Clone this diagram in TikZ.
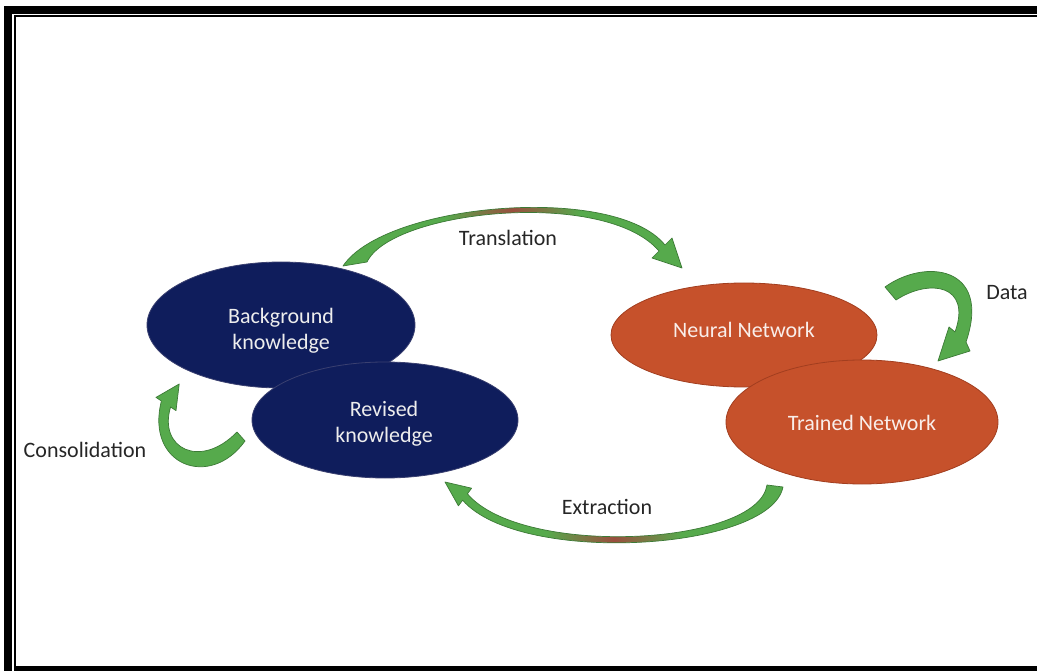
\documentclass[tikz,border=0pt]{standalone}
\usepackage{fontspec}
\setmainfont{Carlito}
\usetikzlibrary{shapes.geometric}
\definecolor{navy}{HTML}{0F1D5C}
\definecolor{navyedge}{HTML}{3A4070}
\definecolor{rust}{HTML}{C6512B}
\definecolor{rustedge}{HTML}{A23E1F}
\definecolor{leaf}{HTML}{56AA4C}
\definecolor{leafedge}{HTML}{3C7A36}
\definecolor{bark}{HTML}{9A4E3E}
\definecolor{ink}{HTML}{262626}
% green band that turns brownish where the arc is thinnest
\pgfdeclarehorizontalshading{arcshade}{100bp}{color(0bp)=(leaf); color(25bp)=(leaf); color(40bp)=(leaf); color(50bp)=(bark); color(60bp)=(leaf); color(75bp)=(leaf); color(100bp)=(leaf)}
\begin{document}
\begin{tikzpicture}[x=1pt, y=-1pt,
  font=\fontsize{22}{26}\selectfont,
  blob/.style={ellipse, inner sep=0pt, line width=0.8pt},
  bluenode/.style={blob, fill=navy, draw=navyedge},
  rustnode/.style={blob, fill=rust, draw=rustedge},
  intext/.style={align=center, text=white!93!black, inner sep=0pt},
  caption/.style={text=ink, inner sep=0pt},
  band/.style={fill=leaf, draw=leafedge, line width=0.7pt, line join=round},
  arcband/.style={draw=leafedge, line width=0.7pt, line join=round, shading=arcshade}]
\useasboundingbox (0,0) rectangle (1037,671);
\clip (0,0) rectangle (1037,671);
\fill[white] (0,0) rectangle (1037,671);

% double frame, open on the right
\draw[line width=8pt, line join=miter] (8,671) -- (8,10) -- (1037,10);
\draw[line width=2pt, line join=miter] (15,671) -- (15,16) -- (1037,16);
\fill (14,665.5) rectangle (1037,671);

% knowledge side
\node[bluenode, minimum width=268pt, minimum height=126pt] (bg) at (281,325) {};
\node[bluenode, minimum width=266pt, minimum height=116pt] (rev) at (385,420) {};
\node[intext] (bgtext) at (281,331) {Background\\knowledge};
\node[intext] (revtext) at (384,424) {Revised\\knowledge};

% network side
\node[rustnode, minimum width=266pt, minimum height=104pt] (nn) at (744,335) {};
\node[rustnode, minimum width=272pt, minimum height=124pt] (tn) at (862,422) {};
\node[intext, text=white!90!rust] (nntext) at (744,330) {Neural Network};
\node[intext, text=white!90!rust] (tntext) at (862,423) {Trained Network};

% labels
\node[caption] (translation) at (508,238) {Translation};
\node[caption] (data) at (1007,293) {Data};
\node[caption] (consolidation) at (85,450) {Consolidation};
\node[caption] (extraction) at (607,507) {Extraction};

% Translation arc
\path[arcband] (343,266) .. controls (385,203) and (615,183) .. (665,245)
  -- (672,238) -- (682,268) -- (652,258) -- (659,251)
  .. controls (605,188) and (392,210) .. (367,262) -- cycle;

% Extraction arc
\path[arcband] (783,487) .. controls (770,551) and (520,566) .. (462.6,500.2)
  -- (458.4,505.8) -- (445,482) -- (471.6,488.2) -- (467.4,493.8)
  .. controls (522,558) and (758,546) .. (767,485) -- cycle;

% Data loop
\path[band] (885,287) .. controls (925,258) and (992,266) .. (966,342)
  -- (970,351) -- (938,361) -- (949,327) -- (955,332)
  .. controls (972,285) and (930,278) .. (896,300) -- cycle;

% Consolidation loop
\path[band] (237,432) .. controls (200,470) and (158,448) .. (170.6,407)
  -- (176,410.6) -- (179.2,384) -- (156,397.4) -- (161.4,401)
  .. controls (145,465) and (210,490) .. (245,441) -- cycle;
\end{tikzpicture}
\end{document}
